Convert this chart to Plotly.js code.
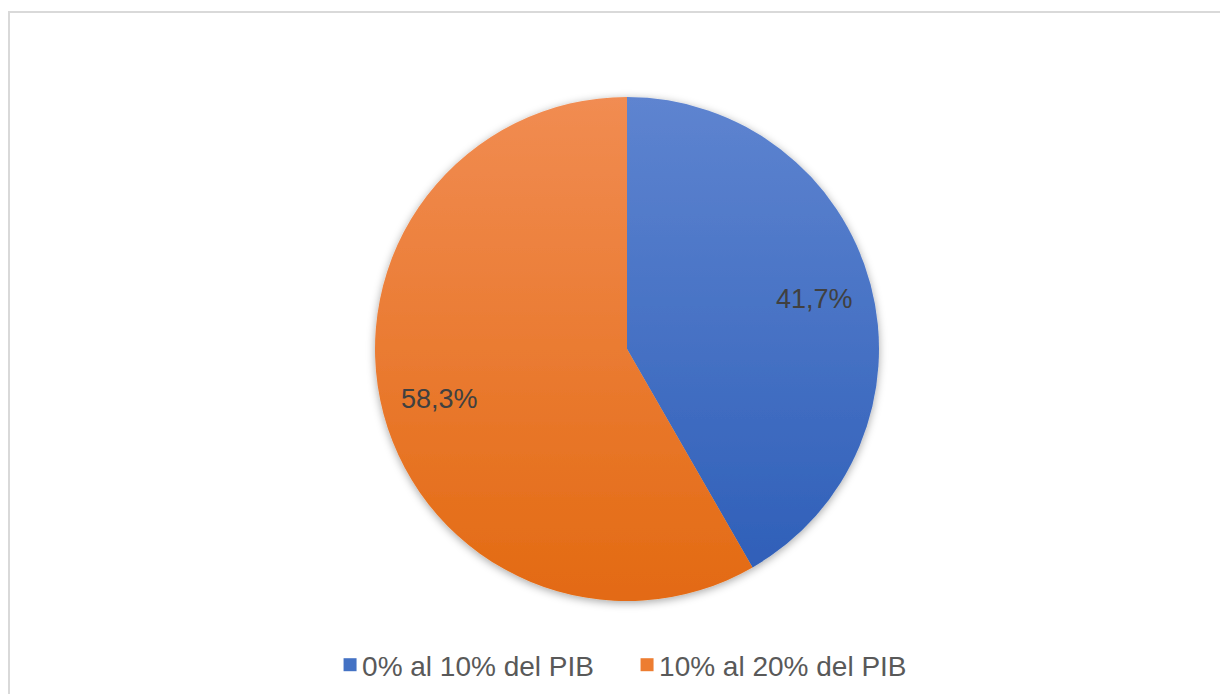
<!DOCTYPE html>
<html>
<head>
<meta charset="utf-8">
<script src="https://cdn.plot.ly/plotly-3.0.1.min.js"></script>
<style>
  html, body { margin: 0; padding: 0; background: #ffffff; }
  #wrap { position: relative; width: 1220px; height: 694px; }
  #chart { position: absolute; left: 0; top: 0; width: 1220px; height: 694px; }
  #frame { position: absolute; left: 8px; top: 11px; width: 1220px; height: 700px;
           border-left: 2px solid #D9D9D9; border-top: 2px solid #D9D9D9; pointer-events: none; }
</style>
</head>
<body>
<div id="wrap">
  <div id="chart"></div>
  <div id="frame"></div>
</div>
<script>
const categories = ["0% al 10% del PIB", "10% al 20% del PIB"];
const values = [41.7, 58.3];
const colors = ["#4472C4", "#ED7D31"];

const W = 1220, H = 694;
const M = { l: 34, r: 0, t: 97, b: 93 };
const plotW = W - M.l - M.r, plotH = H - M.t - M.b;
const R = Math.min(plotW, plotH) / 2;
const labelFrac = 0.77;

// Data labels placed at each slice's mid-angle (clockwise from 12 o'clock)
const total = values.reduce((a, b) => a + b, 0);
let cum = 0;
const annotations = values.map(function (v) {
  const mid = (cum + v / 2) / total * 2 * Math.PI;
  cum += v;
  const dx = labelFrac * R * Math.sin(mid);
  const dy = labelFrac * R * Math.cos(mid);
  return {
    xref: "paper", yref: "paper",
    x: 0.5 + dx / plotW, y: 0.5 + dy / plotH,
    xanchor: "center", yanchor: "middle",
    text: (v / total * 100).toFixed(1).replace(".", ",") + "%",
    showarrow: false,
    font: { family: "Liberation Sans, Arial, sans-serif", size: 27, color: "#404040" }
  };
});

const trace = {
  type: "pie",
  labels: categories,
  values: values,
  sort: false,
  direction: "clockwise",
  rotation: 0,
  marker: { colors: colors, line: { width: 0 } },
  textinfo: "none",
  textposition: "none",
  hoverinfo: "none"
};

const layout = {
  width: W,
  height: H,
  margin: M,
  paper_bgcolor: "rgba(0,0,0,0)",
  plot_bgcolor: "rgba(0,0,0,0)",
  separators: ",.",
  showlegend: true,
  annotations: annotations,
  legend: {
    orientation: "h",
    x: 0.4933, xanchor: "center",
    y: -0.127, yanchor: "middle",
    entrywidth: 252,
    entrywidthmode: "pixels",
    font: { family: "Liberation Sans, Arial, sans-serif", size: 28, color: "#595959" },
    itemclick: false
  },
  font: { family: "Liberation Sans, Arial, sans-serif" }
};

Plotly.newPlot("chart", [trace], layout, { staticPlot: true, displayModeBar: false }).then(function (gd) {
  const svg = gd.querySelector("svg.main-svg");
  const ns = "http://www.w3.org/2000/svg";
  let defs = svg.querySelector("defs");
  if (!defs) { defs = document.createElementNS(ns, "defs"); svg.insertBefore(defs, svg.firstChild); }
  const cd0 = gd.calcdata[0][0];
  const cy = cd0.cy, r = cd0.r;
  const grads = [
    { id: "gBlue", top: "#5E84D0", bottom: "#2C5DB7" },
    { id: "gOrange", top: "#F18C52", bottom: "#E36A12" }
  ];
  grads.forEach(function (g) {
    const lg = document.createElementNS(ns, "linearGradient");
    lg.setAttribute("id", g.id);
    lg.setAttribute("gradientUnits", "userSpaceOnUse");
    lg.setAttribute("x1", "0"); lg.setAttribute("x2", "0");
    lg.setAttribute("y1", String(cy - r)); lg.setAttribute("y2", String(cy + r));
    const s1 = document.createElementNS(ns, "stop");
    s1.setAttribute("offset", "0"); s1.setAttribute("stop-color", g.top);
    const s2 = document.createElementNS(ns, "stop");
    s2.setAttribute("offset", "1"); s2.setAttribute("stop-color", g.bottom);
    lg.appendChild(s1); lg.appendChild(s2);
    defs.appendChild(lg);
  });
  const filt = document.createElementNS(ns, "filter");
  filt.setAttribute("id", "pieShadow");
  filt.setAttribute("x", "-10%"); filt.setAttribute("y", "-10%");
  filt.setAttribute("width", "120%"); filt.setAttribute("height", "120%");
  const ds = document.createElementNS(ns, "feDropShadow");
  ds.setAttribute("dx", "0"); ds.setAttribute("dy", "2");
  ds.setAttribute("stdDeviation", "4");
  ds.setAttribute("flood-color", "#000000");
  ds.setAttribute("flood-opacity", "0.35");
  filt.appendChild(ds);
  defs.appendChild(filt);

  const slices = gd.querySelectorAll(".pielayer .slice path.surface");
  slices.forEach(function (p, i) {
    p.style.fill = "url(#" + grads[i].id + ")";
  });
  const trc = gd.querySelector(".pielayer .trace");
  if (trc) trc.setAttribute("filter", "url(#pieShadow)");

  // Legend swatches: slightly larger, closer to their text
  const sw = gd.querySelectorAll(".legend .legendpoints path");
  sw.forEach(function (p, i) {
    p.setAttribute("d", "M6.5,6.5H-6.5V-6.5H6.5Z");
    p.setAttribute("transform", "translate(28,0)");
    p.style.fill = colors[i];
  });
});
</script>
</body>
</html>
